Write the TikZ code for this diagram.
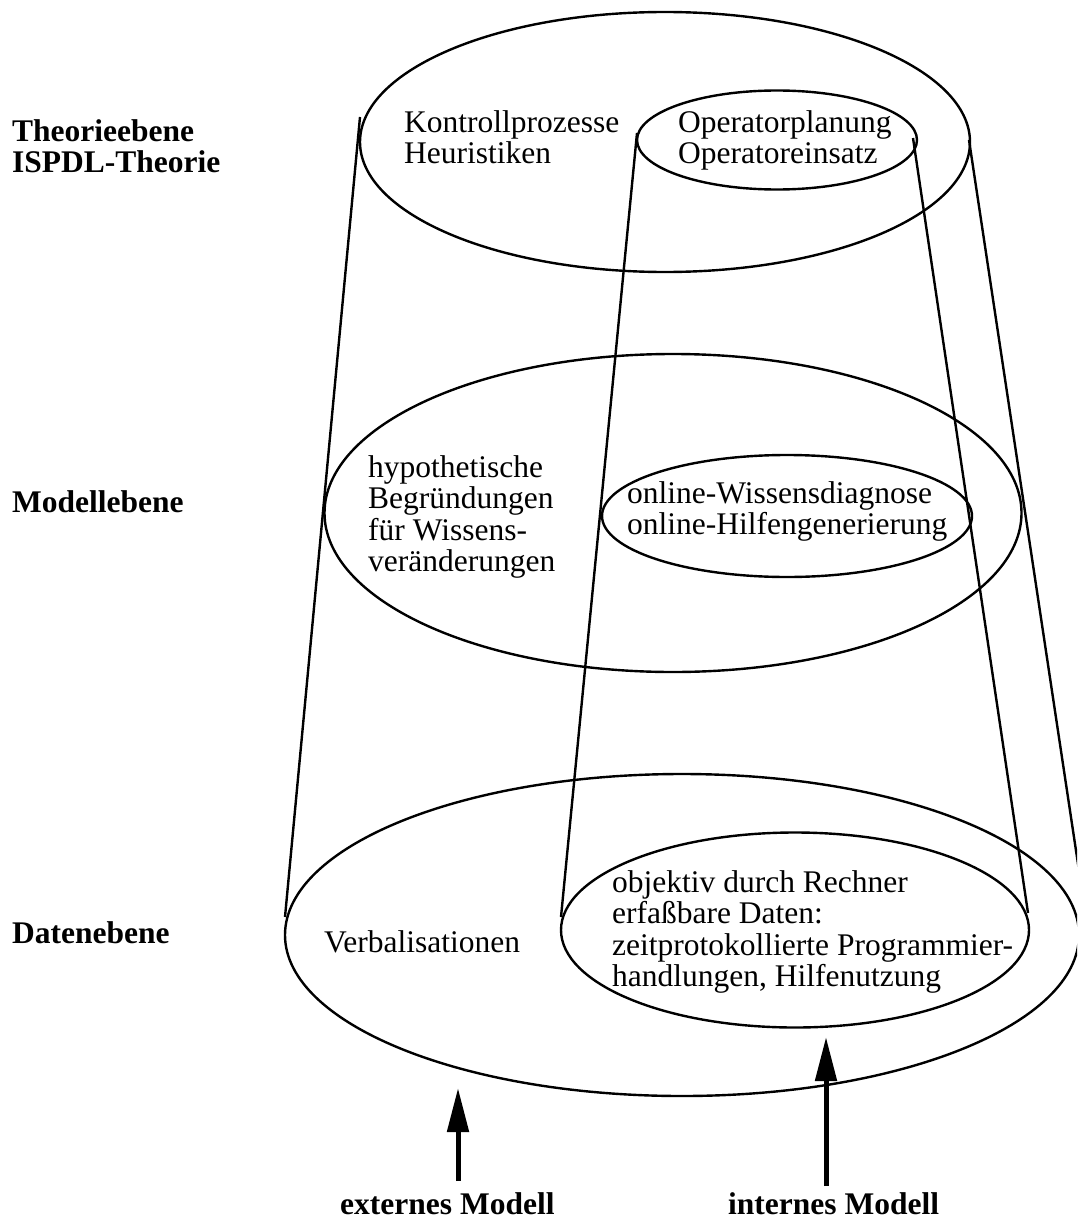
\documentclass[tikz,border=0pt]{standalone}
\usepackage{fontspec}
\setmainfont{Liberation Serif}
\usetikzlibrary{shapes.geometric,arrows.meta}

\newcommand{\lines}[1]{\begin{tabular}[t]{@{}l@{}}#1\end{tabular}}

\begin{document}
\begin{tikzpicture}[x=1pt,y=-1pt,
  level/.style={draw,ellipse,line width=2.4pt,inner sep=0pt},
  rim/.style={line width=2.4pt},
  txt/.style={anchor=base west,inner sep=0pt,font=\fontsize{31.5}{31.5}\selectfont},
  head/.style={anchor=base west,inner sep=0pt,font=\fontsize{31.5}{31.5}\selectfont\bfseries},
  uparrow/.style={line width=5pt,-{Triangle[length=44pt,width=21pt]}}]

\useasboundingbox (0,0) rectangle (1077,1220);

\begin{scope}
\clip (0,0) rectangle (1077,1220);

% the three levels, each with its inner area
\node[level,minimum width=610pt,minimum height=260pt] (theo) at (665,142) {};
\node[level,minimum width=280pt,minimum height=99pt]  (theoin) at (777,140) {};
\node[level,minimum width=697pt,minimum height=318pt] (mod) at (673,513) {};
\node[level,minimum width=370pt,minimum height=122pt] (modin) at (787,516) {};
\node[level,minimum width=794pt,minimum height=322pt] (dat) at (682,935) {};
\node[level,minimum width=468pt,minimum height=195pt] (datin) at (795,930) {};

% the walls of the outer and inner cone
\coordinate (oltop) at (360,117);
\coordinate (olbot) at (285,917);
\coordinate (iltop) at (637,133);
\coordinate (ilbot) at (561,917);
\coordinate (irtop) at (913,138);
\coordinate (irbot) at (1028,913);
\coordinate (ortop) at (969,140);
\coordinate (orbot) at (1086,917);
\draw[rim] (oltop) -- (olbot);
\draw[rim] (iltop) -- (ilbot);
\draw[rim] (irtop) -- (irbot);
\draw[rim] (ortop) -- (orbot);
\end{scope}

% level names
\node[head] (hTheo) at (12,141) {\lines{Theorieebene\\ISPDL-Theorie}};
\node[head] (hMod) at (12,512) {Modellebene};
\node[head] (hDat) at (12,943) {Datenebene};

% contents of the levels
\node[txt] (tKon) at (404,132) {\lines{Kontrollprozesse\\Heuristiken}};
\node[txt] (tOp) at (678,132) {\lines{Operatorplanung\\Operatoreinsatz}};
\node[txt] (tHyp) at (368,477) {\lines{hypothetische\\Begründungen\\für Wissens-\\veränderungen}};
\node[txt] (tOnl) at (627,503) {\lines{online-Wissensdiagnose\\online-Hilfengenerierung}};
\node[txt] (tVer) at (324,952) {Verbalisationen};
\node[txt] (tObj) at (612,892) {\lines{objektiv durch Rechner\\erfaßbare Daten:\\zeitprotokollierte Programmier-\\handlungen, Hilfenutzung}};

% the two models
\node[head] (mExt) at (340,1214) {externes Modell};
\node[head] (mInt) at (728,1214) {internes Modell};
\coordinate (eTail) at (458,1181);
\coordinate (eTip) at (458,1088);
\coordinate (iTail) at (826,1186);
\coordinate (iTip) at (826,1037);
\draw[uparrow] (eTail) -- (eTip);
\draw[uparrow] (iTail) -- (iTip);
\end{tikzpicture}
\end{document}
